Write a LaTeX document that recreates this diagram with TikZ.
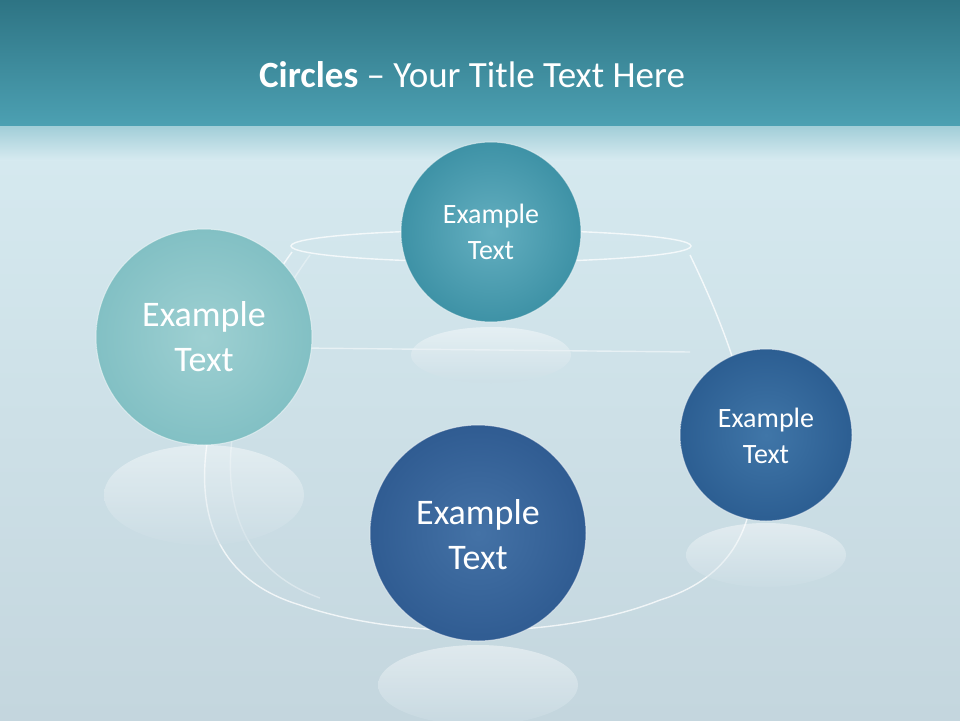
\documentclass[tikz,border=0pt]{standalone}
\usepackage{fontspec}
\setmainfont{Carlito}
\begin{document}
\begin{tikzpicture}[x=1pt,y=-1pt,
  glass/.style={draw=white,line width=1.4pt,opacity=0.75},
  lbl/.style={text=white,align=center}]
\useasboundingbox (0,0) rectangle (960,720);
\shade[top color={rgb,255:red,214;green,234;blue,240}, bottom color={rgb,255:red,196;green,214;blue,222}] (0,125) rectangle (960,720);
\shade[top color={rgb,255:red,160;green,205;blue,215}, bottom color={rgb,255:red,214;green,234;blue,240}] (0,125) rectangle (960,160);
\shade[top color={rgb,255:red,46;green,116;blue,132}, bottom color={rgb,255:red,76;green,160;blue,178}] (0,0) rectangle (960,125);
\node[text=white,font=\fontsize{37}{44}\selectfont] (title) at (472,75) {\textbf{Circles} -- Your Title Text Here};
% bowl
\draw[glass] (491,246) ellipse (200 and 16);
\draw[glass,opacity=0.5] (300,348) -- (690,352);
\draw[glass] (292,252) .. controls (200,380) and (150,560) .. (300,605) .. controls (400,640) and (560,640) .. (660,600) .. controls (790,560) and (770,420) .. (690,255);
\draw[glass,opacity=0.35] (310,255) .. controls (220,380) and (185,550) .. (320,598);
% reflections
\foreach \x/\y/\a/\b in {204/495/100/50,491/355/80/28,766/555/80/32,478/685/100/40}{
  \shade[top color=white,bottom color={rgb,255:red,205;green,222;blue,230},opacity=0.45] (\x,\y) ellipse (\a pt and \b pt);}
% balls
\shade[inner color={rgb,255:red,100;green,175;blue,192}, outer color={rgb,255:red,62;green,146;blue,166}] (491,232) circle (90);
\node[lbl,font=\fontsize{28}{36}\selectfont] (n1) at (491,232) {Example\\Text};
\shade[inner color={rgb,255:red,158;green,208;blue,210}, outer color={rgb,255:red,130;green,192;blue,196}] (204,337) circle (108);
\node[lbl,font=\fontsize{36}{45}\selectfont] (n2) at (204,337) {Example\\Text};
\shade[inner color={rgb,255:red,64;green,118;blue,168}, outer color={rgb,255:red,44;green,94;blue,146}] (766,435) circle (86);
\node[lbl,font=\fontsize{28}{36}\selectfont] (n3) at (766,436) {Example\\Text};
\shade[inner color={rgb,255:red,68;green,114;blue,166}, outer color={rgb,255:red,48;green,92;blue,146}] (478,533) circle (108);
\node[lbl,font=\fontsize{36}{45}\selectfont] (n4) at (478,535) {Example\\Text};
\draw[white,opacity=0.5,line width=1pt] (491,232) circle (90) (204,337) circle (108) (766,435) circle (86) (478,533) circle (108);
\end{tikzpicture}
\end{document}
